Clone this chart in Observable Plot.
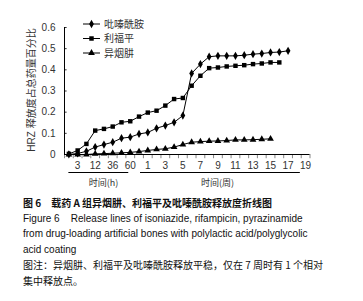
<!DOCTYPE html>
<html><head><meta charset="utf-8">
<script src="https://cdn.jsdelivr.net/npm/d3@7"></script>
<script src="https://cdn.jsdelivr.net/npm/@observablehq/plot@0.6"></script>
<style>
html,body{margin:0;padding:0;background:#fff;overflow:hidden;width:363px;}
#chart svg{display:block;}
#caption{font-family:"Liberation Sans",Arial,"Noto Sans CJK SC",sans-serif;font-size:10px;line-height:15.5px;color:#111;padding-left:23px;margin-top:3px;}
.cn{font-family:"Noto Sans CJK SC",sans-serif;}
</style></head><body>
<div id="chart"></div>
<div id="caption">
<div class="cn" style="font-weight:bold">图 6　载药 A 组异烟肼、利福平及吡嗪酰胺释放度折线图</div>
<div>Figure 6&nbsp;&nbsp;&nbsp; Release lines of isoniazide, rifampicin, pyrazinamide</div>
<div>from drug-loading artificial bones with polylactic acid/polyglycolic</div>
<div>acid coating</div>
<div class="cn">图注：异烟肼、利福平及吡嗪酰胺释放平稳，仅在 7 周时有 1 个相对</div>
<div class="cn">集中释放点。</div>
</div>
<script>
// Categories: hours then weeks
const hourLabels = ["1","3","6","12","24","36","48","60","72"];
const weekLabels = ["1","2","3","4","5","6","7","8","9","10","11","12","13","14","15","16","17","18","19"];
const categories = [...hourLabels, ...weekLabels];

const seriesNames = ["吡嗪酰胺","利福平","异烟肼"];
const pyrazinamide = [0, 0.005, 0.015, 0.035, 0.047, 0.058, 0.077, 0.082, 0.097, 0.104, 0.124, 0.137, 0.152, 0.184, 0.383, 0.427, 0.462, 0.466, 0.466, 0.466, 0.469, 0.474, 0.477, 0.482, 0.484, 0.49];
const rifampicin = [0.003, 0.019, 0.05, 0.113, 0.121, 0.132, 0.152, 0.157, 0.179, 0.198, 0.207, 0.231, 0.262, 0.267, 0.325, 0.372, 0.408, 0.411, 0.416, 0.419, 0.422, 0.427, 0.43, 0.435, 0.435];
const isoniazid = [0, 0, 0, 0.003, 0.004, 0.006, 0.008, 0.01, 0.014, 0.019, 0.024, 0.027, 0.035, 0.047, 0.058, 0.061, 0.063, 0.064, 0.066, 0.069, 0.069, 0.07, 0.072, 0.074];
const yTicks = [0, 0.1, 0.2, 0.3, 0.4, 0.5, 0.6];

const seriesValues = [pyrazinamide, rifampicin, isoniazid];
const rows = seriesValues.flatMap((vals, s) => vals.map((v, i) => ({series: seriesNames[s], i, v})));

const xDomain = [-0.5, categories.length - 0.5];
const boundaries = d3.range(categories.length + 1).map(i => i - 0.5);
const labelIdx = d3.range(1, categories.length, 2);

const chart = Plot.plot({
  width: 363, height: 192,
  marginTop: 27, marginBottom: 38, marginLeft: 64, marginRight: 53.5,
  style: {fontFamily: "'Liberation Sans', Arial, sans-serif", fontSize: "10px", color: "#333", background: "white"},
  x: {domain: xDomain, ticks: labelIdx, tickFormat: i => categories[i], tickSize: 0, tickPadding: 7, label: null},
  y: {domain: [0, 0.6], ticks: yTicks, tickFormat: d => d === 0 ? "0" : d.toFixed(1), tickSize: 0, tickPadding: 9, label: null},
  symbol: {domain: seriesNames, range: ["diamond", "square", "triangle"]},
  marks: [
    Plot.ruleX(boundaries, {y1: 0, y2: -0.02, stroke: "#888"}),
    Plot.ruleY(yTicks, {x1: xDomain[0], x2: xDomain[0] + 0.3, stroke: "#333"}),
    Plot.ruleY([0], {stroke: "#000"}),
    Plot.ruleX([xDomain[0]], {stroke: "#000"}),
    Plot.line(rows, {x: "i", y: "v", z: "series", stroke: "#000", strokeWidth: 1}),
    Plot.dot(rows, {x: "i", y: "v", symbol: "series", fill: "#000", stroke: "none", r: 2.5})
  ]
});
document.getElementById("chart").appendChild(chart);

const svg = d3.select(chart);
const xs = chart.scale("x");
const sym = {"吡嗪酰胺": d3.symbolDiamond, "利福平": d3.symbolSquare, "异烟肼": d3.symbolTriangle};
// legend
const lg = svg.append("g");
seriesNames.forEach((name, k) => {
  const y = 24 + k * 14.5;
  lg.append("line").attr("x1", 83).attr("x2", 100).attr("y1", y).attr("y2", y).attr("stroke", "#000");
  lg.append("path").attr("d", d3.symbol(sym[name], 20)()).attr("transform", `translate(91.5,${y})`).attr("fill", "#000");
  lg.append("text").attr("x", 104).attr("y", y).attr("dy", "0.35em").attr("text-anchor", "start").attr("font-family", "'Noto Sans CJK SC', sans-serif").attr("font-size", 10).attr("fill", "#333").text(name);
});
// y title
svg.append("text").attr("transform", "translate(31,90) rotate(-90)").attr("text-anchor", "middle").attr("dy", "0.35em")
  .attr("font-family", "'Liberation Sans', 'Noto Sans CJK SC', sans-serif").attr("font-size", 10).attr("fill", "#333")
  .text("HRZ 释放度占总药量百分比");
// group underlines and titles
const hourEnd = hourLabels.length - 1;
const groups = [
  {label: "时间(h)", a: xs.apply(0), b: xs.apply(hourEnd - 1) - 1.5, c: xs.apply(4)},
  {label: "时间(周)", a: xs.apply(hourEnd) + 1.5, b: xs.apply(categories.length - 1.6), c: xs.apply(17)}
];
groups.forEach(g => {
  svg.append("line").attr("x1", g.a).attr("x2", g.b).attr("y1", 172.5).attr("y2", 172.5).attr("stroke", "#000");
  svg.append("text").attr("x", g.c).attr("y", 183).attr("dy", "0.35em").attr("text-anchor", "middle")
    .attr("font-family", "'Noto Sans CJK SC', sans-serif").attr("font-size", 9).attr("fill", "#333").text(g.label);
});
</script>
</body></html>
